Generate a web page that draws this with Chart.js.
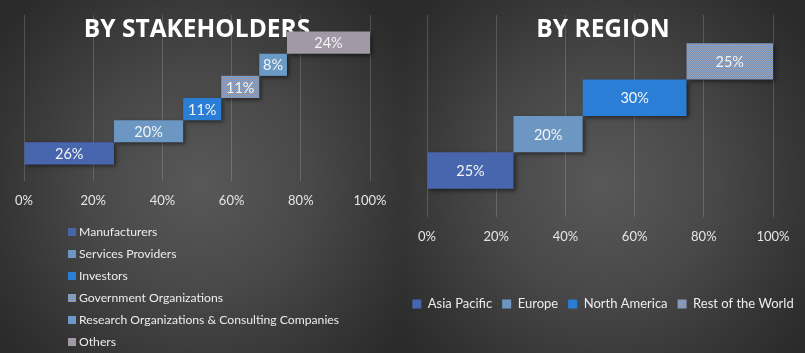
<!DOCTYPE html>
<html>
<head>
<meta charset="utf-8">
<script src="https://cdn.jsdelivr.net/npm/chart.js@4"></script>
<style>
  html, body { margin: 0; padding: 0; background: #2d2d2d; }
  #wrap { position: relative; width: 805px; height: 353px; overflow: hidden; }
  .panel {
    position: absolute; top: 0; height: 353px;
    background: radial-gradient(ellipse 62% 70% at 50% 52%, #585858 0%, #484848 45%, #353535 80%, #2b2b2b 100%);
  }
  #left { left: 0; width: 401px; }
  #right { left: 401px; width: 404px; }
  canvas { position: absolute; left: 0; top: 0; }
  #stakeLegend {
    position: absolute; left: 68px; top: 221px; margin: 0; padding: 0; list-style: none;
    font: 12.2px Lato, sans-serif; color: #ececec;
  }
  #stakeLegend li { height: 22px; line-height: 22px; white-space: nowrap; }
  #stakeLegend .box { display: inline-block; width: 8px; height: 8px; margin-right: 3px; vertical-align: 0; }
</style>
</head>
<body>
<div id="wrap">
  <div class="panel" id="left">
    <canvas id="stakeChart" width="401" height="353"></canvas>
    <ul id="stakeLegend"></ul>
  </div>
  <div class="panel" id="right">
    <canvas id="regionChart" width="404" height="353"></canvas>
  </div>
</div>
<script>
// --- data ---
const stakeholderLabels = ['Manufacturers', 'Services Providers', 'Investors', 'Government Organizations', 'Research Organizations & Consulting Companies', 'Others'];
const stakeholderShares = [26, 20, 11, 11, 8, 24];

const regionLabels = ['Asia Pacific', 'Europe', 'North America', 'Rest of the World'];
const regionShares = [25, 20, 30, 25];

const axisTicks = [0, 20, 40, 60, 80, 100];

// --- colours ---
function checker(a, b) {
    const c = document.createElement('canvas');
    c.width = c.height = 2;
    const g = c.getContext('2d');
    g.fillStyle = a; g.fillRect(0, 0, 2, 2);
    g.fillStyle = b; g.fillRect(0, 0, 1, 1); g.fillRect(1, 1, 1, 1);
    return g.createPattern(c, 'repeat');
}
const patternA = '#a29ea8', patternB = '#6f94c8';
const stakeholderColors = ['#4866ae', '#6b97c2', '#2a7ed6', checker(patternA, patternB), '#6c9ac6', '#a199a6'];
const stakeholderCss = ['#4866ae', '#6b97c2', '#2a7ed6', null, '#6c9ac6', '#a199a6'];
const regionColors = ['#4866ae', '#6b97c2', '#2a7ed6', checker(patternA, patternB)];

const FONT = 'Lato, sans-serif';
const gridColor = 'rgba(255,255,255,0.17)';
const tickColor = '#e6e6e6';

// floating bars, one row per item, stepping up from the bottom-left
function buildDatasets(labels, shares, colors) {
    let start = 0;
    const rows = labels.map((label, i) => {
        const row = { label: label, data: [[start, start + shares[i]]], backgroundColor: colors[i], borderWidth: 0 };
        start += shares[i];
        return row;
    });
    // first dataset is drawn at the top of the group
    return rows.reverse();
}

// drop shadow on bars and value text in the middle of each bar
const barLabels = {
    id: 'barLabels',
    beforeDatasetsDraw(chart) {
        const ctx = chart.ctx;
        ctx.save();
        ctx.shadowColor = 'rgba(0,0,0,0.5)';
        ctx.shadowOffsetX = 2;
        ctx.shadowOffsetY = 2;
        ctx.shadowBlur = 4;
    },
    afterDatasetsDraw(chart) {
        const ctx = chart.ctx;
        ctx.restore();
        ctx.save();
        ctx.font = '14.5px ' + FONT;
        ctx.fillStyle = '#f4f4f4';
        ctx.textAlign = 'center';
        ctx.textBaseline = 'middle';
        chart.data.datasets.forEach((ds, i) => {
            const bar = chart.getDatasetMeta(i).data[0];
            const [a, b] = ds.data[0];
            ctx.fillText((b - a) + '%', (bar.x + bar.base) / 2, bar.y + 1);
        });
        ctx.restore();
    }
};

function xScale(extraHeight) {
    return {
        type: 'linear',
        min: 0,
        max: 100,
        afterBuildTicks: (scale) => { scale.ticks = axisTicks.map(v => ({ value: v })); },
        afterFit: (scale) => { scale.height += extraHeight; },
        grid: { color: gridColor, drawTicks: false },
        border: { display: false },
        ticks: { color: tickColor, padding: 12, font: { family: FONT, size: 13 }, callback: v => v + '%' }
    };
}

// invisible side axes that only reserve room, so the legend keeps the full width
function spacer(position, width) {
    return {
        type: 'category',
        position: position,
        grid: { display: false },
        border: { display: false },
        ticks: { display: false },
        afterFit: (scale) => { scale.width = width; }
    };
}

function titleOpts(text) {
    return {
        display: true,
        text: text,
        color: '#ffffff',
        font: { family: "'Open Sans', sans-serif", size: 24.5, weight: 'bold', lineHeight: 1.2 },
        padding: { top: 15.3, bottom: -29.7 }
    };
}

Chart.defaults.font.family = FONT;

new Chart(document.getElementById('stakeChart'), {
    type: 'bar',
    data: { labels: [''], datasets: buildDatasets(stakeholderLabels, stakeholderShares, stakeholderColors) },
    options: {
        indexAxis: 'y',
        responsive: false,
        animation: false,
        clip: false,
        categoryPercentage: 0.8,
        barPercentage: 1,
        layout: { padding: { left: 24, right: 31, top: 0, bottom: 132.4 } },
        plugins: {
            legend: { display: false },
            tooltip: { enabled: false },
            title: titleOpts('BY STAKEHOLDERS')
        },
        scales: {
            x: xScale(0),
            y: { type: 'category', display: false }
        }
    },
    plugins: [barLabels]
});

// html legend for the stacked list under the left chart
const legendList = document.getElementById('stakeLegend');
stakeholderLabels.forEach((label, i) => {
    const li = document.createElement('li');
    const box = document.createElement('span');
    box.className = 'box';
    if (stakeholderCss[i]) {
        box.style.background = stakeholderCss[i];
    } else {
        box.style.background = `repeating-conic-gradient(${patternA} 0 25%, ${patternB} 0 50%) 0 0 / 2px 2px`;
    }
    li.appendChild(box);
    li.appendChild(document.createTextNode(label));
    legendList.appendChild(li);
});

new Chart(document.getElementById('regionChart'), {
    type: 'bar',
    data: { labels: [''], datasets: buildDatasets(regionLabels, regionShares, regionColors) },
    options: {
        indexAxis: 'y',
        responsive: false,
        animation: false,
        clip: false,
        categoryPercentage: 0.72,
        barPercentage: 1,
        layout: { padding: { left: 0, right: 0, top: 0, bottom: 32.5 } },
        plugins: {
            legend: {
                position: 'bottom',
                reverse: true,
                labels: { color: '#ececec', boxWidth: 9, boxHeight: 9, padding: 10, font: { family: FONT, size: 13 } }
            },
            tooltip: { enabled: false },
            title: titleOpts('BY REGION')
        },
        scales: {
            x: xScale(31),
            y: spacer('left', 26),
            y2: spacer('right', 32)
        }
    },
    plugins: [barLabels]
});
</script>
</body>
</html>
